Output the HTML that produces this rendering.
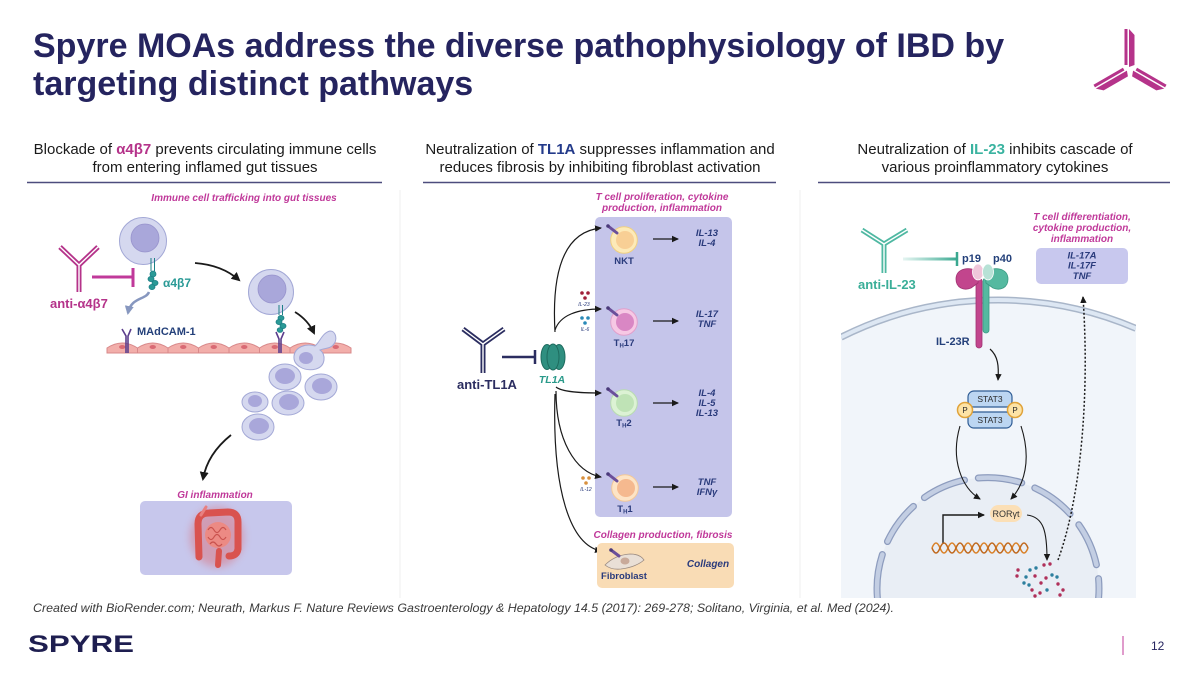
<!DOCTYPE html>
<html><head><meta charset="utf-8">
<style>
html,body{margin:0;padding:0;background:#fff;width:1200px;height:675px;overflow:hidden;}
svg{display:block;}
text{font-family:"Liberation Sans",Arial,sans-serif;}
</style></head><body>
<svg width="1200" height="675" viewBox="0 0 1200 675" xmlns="http://www.w3.org/2000/svg">
<defs>
 <marker id="ah" markerWidth="8" markerHeight="8" refX="6" refY="4" orient="auto" markerUnits="userSpaceOnUse">
  <path d="M0,0.8 L7,4 L0,7.2 Z" fill="#1a1a1a"/>
 </marker>
 <marker id="ahg" markerWidth="10" markerHeight="10" refX="7" refY="5" orient="auto" markerUnits="userSpaceOnUse">
  <path d="M0,0.5 L9,5 L0,9.5 Z" fill="#8797bf"/>
 </marker>
 <marker id="ahb" markerWidth="10" markerHeight="10" refX="7" refY="5" orient="auto" markerUnits="userSpaceOnUse">
  <path d="M0,0.5 L9,5 L0,9.5 Z" fill="#1a1a1a"/>
 </marker>
 <clipPath id="cellclip"><rect x="841" y="190" width="295" height="408"/></clipPath>
 <linearGradient id="tealfade" gradientUnits="userSpaceOnUse" x1="903" y1="0" x2="957" y2="0">
  <stop offset="0" stop-color="#4db6a0" stop-opacity="0.15"/><stop offset="1" stop-color="#3aa890"/>
 </linearGradient>
 <filter id="blur" x="-50%" y="-50%" width="200%" height="200%"><feGaussianBlur stdDeviation="4"/></filter>
</defs>

<!-- Title -->
<text x="33" y="57" font-size="34" font-weight="bold" fill="#25245f">Spyre MOAs address the diverse pathophysiology of IBD by</text>
<text x="33" y="95" font-size="34" font-weight="bold" fill="#25245f">targeting distinct pathways</text>

<!-- Logo top right -->
<g transform="translate(1130,70)" fill="#b5338a">
 <g>
  <polygon points="-5.5,-5 -5.5,-41 -2.5,-41 -2.5,-5"/>
  <polygon points="-1,-3 -1,-41 4.5,-35 4.5,-5"/>
 </g>
 <g transform="rotate(120)">
  <polygon points="-5.5,-5 -5.5,-39 -2.5,-39 -2.5,-5"/>
  <polygon points="-1,-3 -1,-39 4.5,-33 4.5,-5"/>
 </g>
 <g transform="rotate(-120)">
  <polygon points="-4.5,-5 -4.5,-33 1,-39 1,-3"/>
  <polygon points="2.5,-5 2.5,-39 5.5,-39 5.5,-5"/>
 </g>
</g>

<!-- Headers -->
<text x="205" y="154" font-size="15" text-anchor="middle" fill="#1a1a1a">Blockade of <tspan fill="#b5338a" font-weight="bold">α4β7</tspan> prevents circulating immune cells</text>
<text x="205" y="172" font-size="15" text-anchor="middle" fill="#1a1a1a">from entering inflamed gut tissues</text>
<text x="600" y="154" font-size="15" text-anchor="middle" fill="#1a1a1a">Neutralization of <tspan fill="#233a8a" font-weight="bold">TL1A</tspan> suppresses inflammation and</text>
<text x="600" y="172" font-size="15" text-anchor="middle" fill="#1a1a1a">reduces fibrosis by inhibiting fibroblast activation</text>
<text x="995" y="154" font-size="15" text-anchor="middle" fill="#1a1a1a">Neutralization of <tspan fill="#3ab3a0" font-weight="bold">IL-23</tspan> inhibits cascade of</text>
<text x="995" y="172" font-size="15" text-anchor="middle" fill="#1a1a1a">various proinflammatory cytokines</text>

<line x1="27" y1="182.5" x2="382" y2="182.5" stroke="#4d4d7d" stroke-width="1.5"/>
<line x1="423" y1="182.5" x2="776" y2="182.5" stroke="#4d4d7d" stroke-width="1.5"/>
<line x1="818" y1="182.5" x2="1170" y2="182.5" stroke="#4d4d7d" stroke-width="1.5"/>

<line x1="400" y1="190" x2="400" y2="598" stroke="#efefef" stroke-width="1"/>
<line x1="800" y1="190" x2="800" y2="598" stroke="#efefef" stroke-width="1"/>

<!-- ================= LEFT PANEL ================= -->
<text x="244" y="201" font-size="10" font-weight="bold" font-style="italic" fill="#c0399a" text-anchor="middle">Immune cell trafficking into gut tissues</text>

<g fill="none" stroke-linecap="butt">
 <path d="M60,247 L79,265 L98,247 M79,265 L79,292" stroke="#b5338a" stroke-width="5"/>
 <path d="M60,247 L79,265 L98,247 M79,265 L79,292" stroke="#fff" stroke-width="1.4"/>
</g>
<line x1="92" y1="277" x2="133" y2="277" stroke="#c0399a" stroke-width="3"/>
<line x1="133" y1="268" x2="133" y2="287" stroke="#c0399a" stroke-width="3"/>
<text x="50" y="308" font-size="13" font-weight="bold" fill="#b5338a">anti-α4β7</text>

<circle cx="143" cy="241" r="23.5" fill="#d5d8ef" stroke="#a3a8d6" stroke-width="1"/>
<circle cx="145" cy="238" r="14" fill="#a9a7da" stroke="#9793cc" stroke-width="0.8"/>
<g stroke="#1d7f86" fill="#2a9a96">
 <line x1="151" y1="258" x2="151" y2="271" stroke-width="1"/>
 <line x1="154.5" y1="258" x2="154.5" y2="271" stroke-width="1"/>
 <ellipse cx="153" cy="274" rx="3" ry="3" stroke-width="0.8"/>
 <ellipse cx="151" cy="279" rx="3" ry="2.6" stroke-width="0.8"/>
 <ellipse cx="155" cy="283" rx="3" ry="2.6" stroke-width="0.8"/>
 <ellipse cx="152" cy="287" rx="3" ry="2.6" stroke-width="0.8"/>
</g>
<text x="163" y="287" font-size="12" font-weight="bold" fill="#2a9a96">α4β7</text>

<path d="M149,292 C146,300 131,297 128,313" fill="none" stroke="#8797bf" stroke-width="2.5" marker-end="url(#ahg)"/>

<text x="137" y="335" font-size="11" font-weight="bold" fill="#24407a">MAdCAM-1</text>

<path d="M195,263 Q222,265 239,280" fill="none" stroke="#1a1a1a" stroke-width="1.8" marker-end="url(#ahb)"/>
<path d="M295,312 Q308,320 314,333" fill="none" stroke="#1a1a1a" stroke-width="1.8" marker-end="url(#ahb)"/>

<circle cx="271" cy="292" r="22.5" fill="#d5d8ef" stroke="#a3a8d6" stroke-width="1"/>
<circle cx="272" cy="289" r="14" fill="#a9a7da" stroke="#9793cc" stroke-width="0.8"/>
<g stroke="#1d7f86" fill="#2a9a96">
 <line x1="279" y1="305" x2="279" y2="315" stroke-width="1"/>
 <line x1="282.5" y1="305" x2="282.5" y2="315" stroke-width="1"/>
 <ellipse cx="281" cy="318" rx="3" ry="2.6" stroke-width="0.8"/>
 <ellipse cx="279" cy="322" rx="3" ry="2.6" stroke-width="0.8"/>
 <ellipse cx="283" cy="326" rx="3" ry="2.6" stroke-width="0.8"/>
 <ellipse cx="280" cy="330" rx="2.8" ry="2.4" stroke-width="0.8"/>
</g>

<g fill="#f2aeaa" stroke="#d8888a" stroke-width="1">
 <path d="M107,353 L107,348 Q122.25,338 137.5,348 L137.5,353 Z"/>
 <path d="M137.5,353 L137.5,348 Q152.75,338 168,348 L168,353 Z"/>
 <path d="M168,353 L168,348 Q183.25,338 198.5,348 L198.5,353 Z"/>
 <path d="M198.5,353 L198.5,348 Q213.75,338 229,348 L229,353 Z"/>
 <path d="M229,353 L229,348 Q244.25,338 259.5,348 L259.5,353 Z"/>
 <path d="M259.5,353 L259.5,348 Q274.75,338 290,348 L290,353 Z"/>
 <path d="M290,353 L290,348 Q305.25,338 320.5,348 L320.5,353 Z"/>
 <path d="M320.5,353 L320.5,348 Q335.75,338 351,348 L351,353 Z"/>
</g>
<g fill="#d96a74">
 <ellipse cx="122.25" cy="347" rx="3.2" ry="2"/>
 <ellipse cx="152.75" cy="347" rx="3.2" ry="2"/>
 <ellipse cx="183.25" cy="347" rx="3.2" ry="2"/>
 <ellipse cx="213.75" cy="347" rx="3.2" ry="2"/>
 <ellipse cx="244.25" cy="347" rx="3.2" ry="2"/>
 <ellipse cx="274.75" cy="347" rx="3.2" ry="2"/>
 <ellipse cx="305.25" cy="347" rx="3.2" ry="2"/>
 <ellipse cx="335.75" cy="347" rx="3.2" ry="2"/>
</g>
<g stroke="#5b3d8c" stroke-width="1.6" fill="none">
 <path d="M122,329 L126,336 L126,353 M131,329 L128,336 L128,353"/>
 <path d="M276,332 L279,339 L279,353 M284,332 L281,339 L281,353"/>
</g>

<path d="M330,331 C336,331 338,340 333,345 C330,349 324,348 320,350 C326,354 326,366 316,369 C304,372 293,365 294,356 C295,347 306,343 315,346 C320,342 322,333 330,331 Z" fill="#d5d8ef" stroke="#a3a8d6" stroke-width="1"/>
<ellipse cx="306" cy="358" rx="7" ry="6" fill="#a9a7da"/>

<g fill="#d5d8ef" stroke="#a3a8d6" stroke-width="1">
 <ellipse cx="285" cy="377" rx="16" ry="13"/>
 <ellipse cx="321" cy="387" rx="16" ry="13"/>
 <ellipse cx="288" cy="403" rx="16" ry="12"/>
 <ellipse cx="255" cy="402" rx="13" ry="10"/>
 <ellipse cx="258" cy="427" rx="16" ry="13"/>
</g>
<g fill="#a9a7da">
 <ellipse cx="285" cy="376" rx="10" ry="8"/>
 <ellipse cx="322" cy="386" rx="10" ry="8"/>
 <ellipse cx="289" cy="402" rx="10" ry="8"/>
 <ellipse cx="255" cy="401" rx="7" ry="6"/>
 <ellipse cx="259" cy="426" rx="10" ry="8"/>
</g>

<path d="M231,435 C216,447 206,462 203,479" fill="none" stroke="#1a1a1a" stroke-width="1.8" marker-end="url(#ahb)"/>

<text x="215" y="498" font-size="10" font-weight="bold" font-style="italic" fill="#c0399a" text-anchor="middle">GI inflammation</text>
<rect x="140" y="501" width="152" height="74" rx="5" fill="#c7c7ec"/>
<ellipse cx="217" cy="537" rx="27" ry="30" fill="#e25050" opacity="0.35" filter="url(#blur)"/>
<ellipse cx="218" cy="535" rx="13" ry="13" fill="#ec8a84"/>
<path d="M208,530 q3,-5 6,0 t6,0 t6,0 M208,537 q3,5 6,0 t6,0 t6,0 M210,544 q3,-4 6,0 t6,0" fill="none" stroke="#c9524e" stroke-width="1.2"/>
<path d="M199,557 L198,524 Q198,513 209,513 L228,512 Q238,512 238,522 L238,549 Q237,556 229,556" fill="none" stroke="#d9534f" stroke-width="7" stroke-linecap="round"/>
<path d="M219,551 L218,565" stroke="#d9534f" stroke-width="6" stroke-linecap="round"/>
<path d="M201,515 L206,507" stroke="#e88080" stroke-width="3" stroke-linecap="round"/>

<!-- ================= MIDDLE PANEL ================= -->
<text x="662" y="200" font-size="10" font-weight="bold" font-style="italic" fill="#c0399a" text-anchor="middle">T cell proliferation, cytokine</text>
<text x="662" y="211" font-size="10" font-weight="bold" font-style="italic" fill="#c0399a" text-anchor="middle">production, inflammation</text>
<rect x="595" y="217" width="137" height="300" rx="5" fill="#c5c5ea"/>

<g fill="none">
 <path d="M463,329 L483,344 L504,329 M483,344 L483,373" stroke="#2b2d60" stroke-width="5"/>
 <path d="M463,329 L483,344 L504,329 M483,344 L483,373" stroke="#fff" stroke-width="1.4"/>
</g>
<line x1="502" y1="357" x2="535" y2="357" stroke="#2b2d60" stroke-width="2.5"/>
<line x1="535" y1="350" x2="535" y2="364" stroke="#2b2d60" stroke-width="2.5"/>
<text x="457" y="389" font-size="13" font-weight="bold" fill="#2b2d60">anti-TL1A</text>

<g fill="#2f8f80" stroke="#1e6b5e" stroke-width="1">
 <ellipse cx="547" cy="357" rx="6" ry="12.5"/>
 <ellipse cx="559" cy="357" rx="6" ry="12.5"/>
 <ellipse cx="553" cy="357" rx="6" ry="13"/>
</g>
<text x="552" y="383" font-size="10.5" font-weight="bold" font-style="italic" fill="#2a9a8a" text-anchor="middle">TL1A</text>

<g fill="none" stroke="#1a1a1a" stroke-width="1.2">
 <path d="M555,332 C552,280 560,232 601,228" marker-end="url(#ah)"/>
 <path d="M555,330 C560,315 578,309 601,309" marker-end="url(#ah)"/>
 <path d="M556,387 C562,392 580,393 601,393" marker-end="url(#ah)"/>
 <path d="M556,391 C556,440 575,472 601,477" marker-end="url(#ah)"/>
 <path d="M555,394 C552,490 570,545 601,551" marker-end="url(#ah)"/>
</g>

<g fill="#a0203a"><circle cx="582" cy="293" r="1.8"/><circle cx="588" cy="293" r="1.8"/><circle cx="585" cy="298" r="1.8"/></g>
<text x="584" y="306" font-size="5" font-style="italic" fill="#2a3b7c" text-anchor="middle">IL-23</text>
<g fill="#2a8ab8"><circle cx="582" cy="318" r="1.8"/><circle cx="588" cy="318" r="1.8"/><circle cx="585" cy="323" r="1.8"/></g>
<text x="585" y="331" font-size="5" font-style="italic" fill="#2a3b7c" text-anchor="middle">IL-6</text>
<g fill="#d8903e"><circle cx="583" cy="478" r="1.8"/><circle cx="589" cy="478" r="1.8"/><circle cx="586" cy="483" r="1.8"/></g>
<text x="586" y="491" font-size="5" font-style="italic" fill="#2a3b7c" text-anchor="middle">IL-12</text>

<g stroke-width="1">
 <circle cx="624" cy="240" r="13.3" fill="#fdeab8" stroke="#f0d080"/>
 <circle cx="625" cy="240" r="9" fill="#f8cf95" stroke="none"/>
 <circle cx="624" cy="322" r="13.3" fill="#f6c8e4" stroke="#e0a0cc"/>
 <circle cx="625" cy="322" r="9" fill="#d987c4" stroke="none"/>
 <circle cx="624" cy="403" r="13.3" fill="#dcf2d4" stroke="#b8dcb0"/>
 <circle cx="625" cy="403" r="9" fill="#bfe3b6" stroke="none"/>
 <circle cx="625" cy="488" r="13.3" fill="#fde4c6" stroke="#f3c898"/>
 <circle cx="626" cy="488" r="9" fill="#f5b98f" stroke="none"/>
</g>
<g stroke="#6b4f9a" stroke-width="3" stroke-linecap="round">
 <line x1="608" y1="226" x2="617" y2="233"/>
 <line x1="608" y1="308" x2="617" y2="315"/>
 <line x1="608" y1="389" x2="617" y2="396"/>
 <line x1="608" y1="474" x2="617" y2="481"/>
</g>
<g fill="#4a3a7a">
 <circle cx="608" cy="226" r="1.8"/><circle cx="608" cy="308" r="1.8"/><circle cx="608" cy="389" r="1.8"/><circle cx="608" cy="474" r="1.8"/>
</g>

<g font-size="9.5" font-weight="bold" fill="#2a3b7c" text-anchor="middle">
 <text x="624" y="264">NKT</text>
 <text x="624" y="346">T<tspan font-size="6" dy="1.5">H</tspan><tspan dy="-1.5">17</tspan></text>
 <text x="624" y="426">T<tspan font-size="6" dy="1.5">H</tspan><tspan dy="-1.5">2</tspan></text>
 <text x="625" y="512">T<tspan font-size="6" dy="1.5">H</tspan><tspan dy="-1.5">1</tspan></text>
</g>

<g stroke="#1a1a1a" stroke-width="1.3">
 <line x1="653" y1="239" x2="678" y2="239" marker-end="url(#ah)"/>
 <line x1="653" y1="321" x2="678" y2="321" marker-end="url(#ah)"/>
 <line x1="653" y1="403" x2="678" y2="403" marker-end="url(#ah)"/>
 <line x1="653" y1="487" x2="678" y2="487" marker-end="url(#ah)"/>
 <line x1="655" y1="563" x2="680" y2="563" marker-end="url(#ah)"/>
</g>

<g font-size="9.5" font-weight="bold" font-style="italic" fill="#2a3b7c" text-anchor="middle">
 <text x="707" y="236">IL-13</text>
 <text x="707" y="246">IL-4</text>
 <text x="707" y="317">IL-17</text>
 <text x="707" y="327">TNF</text>
 <text x="707" y="396">IL-4</text>
 <text x="707" y="406">IL-5</text>
 <text x="707" y="416">IL-13</text>
 <text x="707" y="485">TNF</text>
 <text x="707" y="495">IFNγ</text>
</g>

<text x="663" y="538" font-size="10" font-weight="bold" font-style="italic" fill="#c0399a" text-anchor="middle">Collagen production, fibrosis</text>
<rect x="597" y="543" width="137" height="45" rx="5" fill="#f9dcb5"/>
<path d="M605,565 Q615,555 630,554 Q640,554 644,560 Q636,567 621,569 Q611,570 605,565 Z" fill="#e9dfd6" stroke="#9a8a80" stroke-width="0.8"/>
<ellipse cx="625" cy="561" rx="4.5" ry="3.5" fill="#c9aa9a"/>
<g stroke="#6b4f9a" stroke-width="3" stroke-linecap="round"><line x1="611" y1="550" x2="619" y2="556"/></g>
<circle cx="611" cy="550" r="1.8" fill="#4a3a7a"/>
<text x="624" y="579" font-size="9.5" font-weight="bold" fill="#2a3b7c" text-anchor="middle">Fibroblast</text>
<text x="708" y="567" font-size="10" font-weight="bold" font-style="italic" fill="#2a3b7c" text-anchor="middle">Collagen</text>

<!-- ================= RIGHT PANEL ================= -->
<path d="M841,598 L841,337.2 A350,350 0 0 1 1136,328.4 L1136,598 Z" fill="#f1f5fa"/>
<g clip-path="url(#cellclip)">
 <path d="M841,337.2 A350,350 0 0 1 1136,328.4" fill="none" stroke="#a9b6c9" stroke-width="7"/>
 <path d="M841,337.2 A350,350 0 0 1 1136,328.4" fill="none" stroke="#dde7f3" stroke-width="4"/>
 <path d="M877.4,598 A111,111 0 1 1 1098.6,598 Z" fill="#e9eef5"/>
 <path d="M877.4,598 A111,111 0 1 1 1098.6,598" fill="none" stroke="#8d9cbe" stroke-width="7" stroke-dasharray="44 14" stroke-linecap="round"/>
 <path d="M877.4,598 A111,111 0 1 1 1098.6,598" fill="none" stroke="#c3cee3" stroke-width="4.5" stroke-dasharray="44 14" stroke-linecap="round"/>
</g>

<text x="1082" y="220" font-size="10" font-weight="bold" font-style="italic" fill="#c0399a" text-anchor="middle">T cell differentiation,</text>
<text x="1082" y="231" font-size="10" font-weight="bold" font-style="italic" fill="#c0399a" text-anchor="middle">cytokine production,</text>
<text x="1082" y="242" font-size="10" font-weight="bold" font-style="italic" fill="#c0399a" text-anchor="middle">inflammation</text>
<rect x="1036" y="248" width="92" height="36" rx="5" fill="#c8c8ee"/>
<g font-size="9.5" font-weight="bold" font-style="italic" fill="#2a3b7c" text-anchor="middle">
 <text x="1082" y="258.5">IL-17A</text>
 <text x="1082" y="268.5">IL-17F</text>
 <text x="1082" y="279">TNF</text>
</g>

<g fill="none">
 <path d="M862,230 L884,244 L907,230 M884,244 L884,273" stroke="#4fb8a2" stroke-width="5"/>
 <path d="M862,230 L884,244 L907,230 M884,244 L884,273" stroke="#fff" stroke-width="1.4"/>
</g>
<line x1="903" y1="259" x2="957" y2="259" stroke="url(#tealfade)" stroke-width="3"/>
<line x1="957" y1="252" x2="957" y2="266" stroke="#3aa890" stroke-width="2.5"/>
<text x="858" y="289" font-size="13" font-weight="bold" fill="#3aae98">anti-IL-23</text>

<text x="962" y="262" font-size="11" font-weight="bold" fill="#24407a">p19</text>
<text x="993" y="262" font-size="11" font-weight="bold" fill="#24407a">p40</text>

<rect x="983" y="278" width="6" height="55" rx="3" fill="#55b9a0" stroke="#3a9a82" stroke-width="0.8"/>
<rect x="976" y="278" width="6" height="70" rx="3" fill="#c2458d" stroke="#a03272" stroke-width="0.8"/>
<path d="M979,272 C970,266 956,268 956,279 C956,288 964,291 971,288 L978,283 Z" fill="#c2458d" stroke="#a03272" stroke-width="0.8"/>
<path d="M985,272 C994,266 1008,268 1008,279 C1008,288 1000,291 993,288 L986,283 Z" fill="#55b9a0" stroke="#3a9a82" stroke-width="0.8"/>
<ellipse cx="978" cy="272" rx="5.5" ry="8" fill="#efc6da" stroke="#fff" stroke-width="0.8"/>
<ellipse cx="988" cy="272" rx="5.5" ry="8" fill="#b7e2d6" stroke="#fff" stroke-width="0.8"/>
<text x="936" y="345" font-size="11" font-weight="bold" fill="#24407a">IL-23R</text>

<path d="M990,349 C998,356 999,366 998,380" fill="none" stroke="#1a1a1a" stroke-width="1.2" marker-end="url(#ah)"/>

<rect x="968" y="391" width="44" height="16" rx="6" fill="#bcd6f2" stroke="#2f5c94" stroke-width="1.2"/>
<rect x="968" y="412" width="44" height="16" rx="6" fill="#bcd6f2" stroke="#2f5c94" stroke-width="1.2"/>
<text x="990" y="402" font-size="8.5" fill="#2a2a2a" text-anchor="middle">STAT3</text>
<text x="990" y="423" font-size="8.5" fill="#2a2a2a" text-anchor="middle">STAT3</text>
<circle cx="965" cy="410" r="7.5" fill="#fde3a6" stroke="#e0a33a" stroke-width="1.5"/>
<circle cx="1015" cy="410" r="7.5" fill="#fde3a6" stroke="#e0a33a" stroke-width="1.5"/>
<text x="965" y="413" font-size="8" fill="#2a2a2a" text-anchor="middle">P</text>
<text x="1015" y="413" font-size="8" fill="#2a2a2a" text-anchor="middle">P</text>

<g fill="none" stroke="#1a1a1a" stroke-width="1.1">
 <path d="M960,426 C950,460 962,488 980,499" marker-end="url(#ah)"/>
 <path d="M1021,426 C1032,460 1024,485 1011,499" marker-end="url(#ah)"/>
 <path d="M1027,515 C1044,517 1047,532 1047,560" marker-end="url(#ah)"/>
 <path d="M943,544 L943,515 L984,515" stroke-width="1.4" marker-end="url(#ah)"/>
</g>

<rect x="990" y="505" width="32" height="17" rx="8.5" fill="#fbdfb6"/>
<text x="1006" y="517" font-size="9" fill="#333" text-anchor="middle">RORγt</text>

<path d="M932,548 q4,-10 8,0 t8,0 t8,0 t8,0 t8,0 t8,0 t8,0 t8,0 t8,0 t8,0 t8,0 t8,0" fill="none" stroke="#d9822b" stroke-width="1.6"/>
<path d="M932,548 q4,10 8,0 t8,0 t8,0 t8,0 t8,0 t8,0 t8,0 t8,0 t8,0 t8,0 t8,0 t8,0" fill="none" stroke="#c06a20" stroke-width="1.6"/>

<g fill="#b0305a">
 <circle cx="1044" cy="565" r="1.7"/><circle cx="1050" cy="564" r="1.7"/><circle cx="1018" cy="570" r="1.7"/>
 <circle cx="1017" cy="576" r="1.7"/><circle cx="1035" cy="576" r="1.7"/><circle cx="1041" cy="583" r="1.7"/>
 <circle cx="1046" cy="578" r="1.7"/><circle cx="1058" cy="584" r="1.7"/><circle cx="1063" cy="590" r="1.7"/>
 <circle cx="1060" cy="595" r="1.7"/><circle cx="1040" cy="593" r="1.7"/><circle cx="1032" cy="590" r="1.7"/>
 <circle cx="1035" cy="596" r="1.7"/>
</g>
<g fill="#2d7f9e">
 <circle cx="1030" cy="570" r="1.7"/><circle cx="1036" cy="568" r="1.7"/><circle cx="1026" cy="577" r="1.7"/>
 <circle cx="1052" cy="575" r="1.7"/><circle cx="1057" cy="577" r="1.7"/><circle cx="1024" cy="583" r="1.7"/>
 <circle cx="1047" cy="590" r="1.7"/><circle cx="1029" cy="585" r="1.7"/>
</g>

<path d="M1058,560 C1080,500 1090,400 1083,297" fill="none" stroke="#1a1a1a" stroke-width="1.5" stroke-dasharray="2 2" marker-end="url(#ah)"/>

<!-- Footer -->
<text x="33" y="612" font-size="12" font-style="italic" fill="#3a3a3a" textLength="861" lengthAdjust="spacingAndGlyphs">Created with BioRender.com; Neurath, Markus F. Nature Reviews Gastroenterology &amp; Hepatology 14.5 (2017): 269-278; Solitano, Virginia, et al. Med (2024).</text>
<text x="28" y="652" font-size="24" font-weight="bold" fill="#1e1e50" textLength="106" lengthAdjust="spacingAndGlyphs">SPYRE</text>
<line x1="1123" y1="636" x2="1123" y2="655" stroke="#c0399a" stroke-width="1"/>
<text x="1151" y="650" font-size="12" fill="#25245f">12</text>
</svg>
</body></html>
